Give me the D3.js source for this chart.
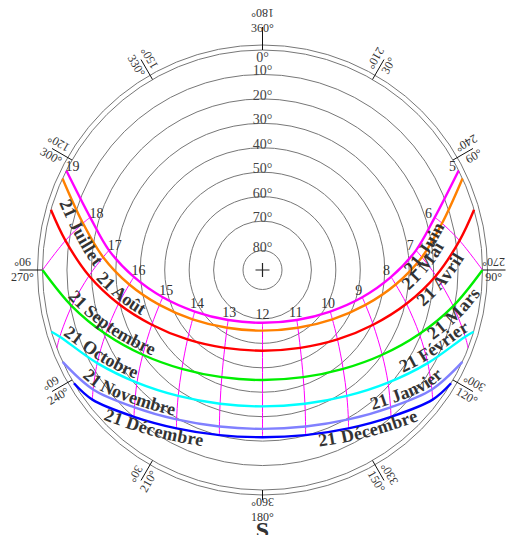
<!DOCTYPE html>
<html><head><meta charset="utf-8">
<script src="https://cdn.jsdelivr.net/npm/d3@7"></script>
<style>body{margin:0;background:#fff}svg{display:block}</style>
</head><body>
<svg id="chart" width="506" height="535"></svg>
<script>
// ---------- data ----------
const altitudeRings = [0, 10, 20, 30, 40, 50, 60, 70, 80];
const azimuthTicks = [0, 30, 60, 90, 120, 150, 180, 210, 240, 270, 300, 330];
const hourLineHours = [6, 7, 8, 9, 10, 11, 12, 13, 14, 15, 16, 17, 18];
// sun path points: [solar hour, azimuth deg, altitude deg]
const pathJuin = [[5,63.1,0],[6,73.0,16.3],[7,82.7,26.7],[8,93.1,37.3],[9,105.3,47.7],[10,121.5,57.5],[11,145.5,65.2],[12,180,68.4],[13,214.5,65.2],[14,238.5,57.5],[15,254.7,47.7],[16,266.9,37.3],[17,277.3,26.7],[18,287.0,16.3],[19,296.9,0]];
const pathMaiJuillet = [[5,65.4,0],[6,75.4,14.1],[7,85.4,24.6],[8,96.2,35.2],[9,108.7,45.5],[10,125.2,55.0],[11,148.5,62.3],[12,180,65.2],[13,211.5,62.3],[14,234.8,55.0],[15,251.3,45.5],[16,263.8,35.2],[17,274.6,24.6],[18,284.6,14.1],[19,294.6,0]];
const pathAvrilAout = [[5.3,74.1,0],[6,81.5,8.5],[7,91.9,19.0],[8,103.2,29.5],[9,116.3,39.5],[10,132.8,48.2],[11,154.1,54.6],[12,180,57.0],[13,205.9,54.6],[14,227.2,48.2],[15,243.7,39.5],[16,256.8,29.5],[17,268.1,19.0],[18,278.5,8.5],[18.7,285.9,0]];
const pathMarsSept = [[6,90,0],[7,100.7,10.6],[8,112.2,20.7],[9,125.3,30.0],[10,140.8,37.8],[11,159.2,43.1],[12,180,45.0],[13,200.8,43.1],[14,219.2,37.8],[15,234.7,30.0],[16,247.8,20.7],[17,259.3,10.6],[18,270,0]];
const pathFevOct = [[6.8,106.3,0],[7,108.2,2.7],[8,119.4,12.4],[9,131.9,21.0],[10,146.2,28.0],[11,162.4,32.6],[12,180,34.2],[13,197.6,32.6],[14,213.8,28.0],[15,228.1,21.0],[16,240.6,12.4],[17,251.8,2.7],[17.2,253.7,0]];
const pathJanvNov = [[7.1,114.7,0],[8,125.2,5.2],[9,137.0,13.2],[10,150.1,19.5],[11,164.6,23.6],[12,180,25.0],[13,195.4,23.6],[14,209.9,19.5],[15,223.0,13.2],[16,234.8,5.2],[16.9,245.3,0]];
const pathDecembre = [[7.4,121.0,0],[8,127.3,2.5],[9,138.8,10.2],[10,151.5,16.3],[11,165.4,20.2],[12,180,21.6],[13,194.6,20.2],[14,208.5,16.3],[15,221.2,10.2],[16,232.7,2.5],[16.6,239.0,0]];
// where the 7 h and 17 h lines meet the horizon
const hourLineHorizon = [[7,110.8,0],[17,249.2,0]];
// date labels: [text, curve index, azimuth of label centre, side]
const dateLabels = [
  ["21 Juillet",1,283,"out"],["21 Août",2,258,"in"],["21 Septembre",3,248,"in"],
  ["21 Octobre",4,241,"in"],["21 Novembre",5,226,"in"],["21 Décembre",6,215,"out"],
  ["21 Juin",0,81,"out"],["21 Mai",1,87,"out"],["21 Avril",2,92,"out"],["21 Mars",3,102,"out"],
  ["21 Février",4,116,"in"],["21 Janvier",5,131,"in"],["21 Décembre",6,146,"out"]
];

// ---------- layout ----------
const W = 506, cx = 262.5, cy = 270;
const curves = [
  {pts: pathJuin, color: "#ff00ff"},
  {pts: pathMaiJuillet, color: "#ff8000"},
  {pts: pathAvrilAout, color: "#ff0000"},
  {pts: pathMarsSept, color: "#00ee00"},
  {pts: pathFevOct, color: "#00ffff"},
  {pts: pathJanvNov, color: "#8080ff"},
  {pts: pathDecembre, color: "#0000ff"}
];
const r = d3.scaleLinear().domain([0, 70, 80, 90]).range([220, 48.9, 19.5, 0]);
const rad = d => d * Math.PI / 180;
const px = d => Math.sin(rad(d[1])) * r(d[2]);
const py = d => -Math.cos(rad(d[1])) * r(d[2]);
const svg = d3.select("#chart");
const g = svg.append("g").attr("transform", `translate(${cx},${cy})`);
const serif = "'Liberation Serif','Times New Roman',serif";

// rings
g.selectAll("circle.ring").data(altitudeRings).join("circle")
  .attr("r", d => r(d)).attr("fill", "none").attr("stroke", "#777").attr("stroke-width", 1);
g.append("circle").attr("r", r(0) + 5).attr("fill", "none").attr("stroke", "#777");

// centre cross
g.append("path").attr("d", "M-7,0H7M0,-7V7").attr("stroke", "#222").attr("stroke-width", 1.2);

// altitude labels
g.selectAll("text.alt").data(altitudeRings).join("text")
  .attr("x", 0).attr("y", d => d === 0 ? -r(d) + 12 : -r(d) + 1)
  .attr("text-anchor", "middle").attr("font-family", serif).attr("font-size", 14).attr("fill", "#444")
  .text(d => d + "°");

// azimuth ticks
const tickEnd = az => az === 180 ? r(0) + 10 : r(0) + 23;
g.selectAll("line.tick").data(azimuthTicks).join("line")
  .attr("x1", d => Math.sin(rad(d)) * r(0)).attr("y1", d => -Math.cos(rad(d)) * r(0))
  .attr("x2", d => Math.sin(rad(d)) * tickEnd(d)).attr("y2", d => -Math.cos(rad(d)) * tickEnd(d))
  .attr("stroke", "#111").attr("stroke-width", 1);

function tickRot(az) {
  if (az % 180 === 0) return 0;
  let a = ((az - 90) % 180 + 180) % 180;
  if (a > 90) a -= 180;
  return a;
}
azimuthTicks.forEach(az => {
  const ra = az === 0 ? 249 : 240;
  const tx = Math.sin(rad(az)) * ra, ty = -Math.cos(rad(az)) * ra;
  const rot = tickRot(az);
  const gg = g.append("g").attr("transform", `translate(${tx},${ty}) rotate(${rot})`);
  const norm = az === 0 ? 360 : az;
  const opp = (az + 180) % 360 === 0 ? 360 : (az + 180) % 360;
  gg.append("text").attr("x", 0).attr("y", 7).attr("dominant-baseline", "central")
    .attr("text-anchor", "middle").attr("font-family", serif).attr("font-size", 12).attr("fill", "#333")
    .text(norm + "°");
  gg.append("text").attr("transform", "translate(0,-8) rotate(180)").attr("dominant-baseline", "central")
    .attr("text-anchor", "middle").attr("font-family", serif).attr("font-size", 12).attr("fill", "#333")
    .text(opp + "°");
  // keep the pair inside the page
  const bb = gg.node().getBoundingClientRect();
  let shift = 0;
  if (bb.right > W - 1) shift = W - 1 - bb.right;
  if (bb.left < 1) shift = 1 - bb.left;
  if (shift) gg.attr("transform", `translate(${tx + shift},${ty}) rotate(${rot})`);
});

// line generator
const radial = d3.lineRadial().angle(d => rad(d[1])).radius(d => r(d[2])).curve(d3.curveCatmullRom.alpha(0.5));

// hour lines
hourLineHours.forEach(h => {
  const pts = curves.map(c => c.pts.find(p => p[0] === h)).filter(Boolean);
  hourLineHorizon.filter(p => p[0] === h).forEach(p => pts.push(p));
  g.append("path").attr("d", radial(pts)).attr("fill", "none").attr("stroke", "#ff00ff").attr("stroke-width", 1);
});

// date curves
curves.forEach((c, i) => {
  g.append("path").attr("d", radial(c.pts)).attr("fill", "none")
    .attr("stroke", c.color).attr("stroke-width", 2.4);
  g.append("path").attr("id", "lp" + i).attr("d", radial(c.pts.slice().reverse()))
    .attr("fill", "none").attr("stroke", "none");
});

// hour labels on the 21 June curve, set off along the inner normal of the curve
pathJuin.forEach((d, i) => {
  const a = pathJuin[Math.max(0, i - 1)], b = pathJuin[Math.min(pathJuin.length - 1, i + 1)];
  let dx = px(b) - px(a), dy = py(b) - py(a);
  const len = Math.hypot(dx, dy); dx /= len; dy /= len;
  const nx = -dy, ny = dx;
  g.append("text").attr("x", px(d) + nx * 7).attr("y", py(d) + ny * 7 - 1)
    .attr("dominant-baseline", "central").attr("text-anchor", "middle")
    .attr("font-family", serif).attr("font-size", 14).attr("fill", "#333").text(d[0]);
});

// date labels along curves
dateLabels.forEach(([txt, ci, az, side]) => {
  const node = document.getElementById("lp" + ci);
  const L = node.getTotalLength();
  let best = 0, bestD = 1e9;
  for (let s = 0; s <= L; s += 0.5) {
    const p = node.getPointAtLength(s);
    let a = Math.atan2(p.x, -p.y) * 180 / Math.PI; if (a < 0) a += 360;
    const dd = Math.abs(a - az);
    if (dd < bestD) { bestD = dd; best = s; }
  }
  g.append("text").attr("font-family", serif).attr("font-size", 18).attr("font-weight", "bold")
    .attr("fill", "#333").attr("dy", side === "out" ? 13 : -3)
    .append("textPath").attr("href", "#lp" + ci).attr("startOffset", best).attr("text-anchor", "middle")
    .text(txt);
});

// south marker (cut by the lower edge, as in the original)
svg.append("text").attr("x", cx).attr("y", 538).attr("text-anchor", "middle")
  .attr("font-family", serif).attr("font-size", 24).attr("font-weight", "bold").attr("fill", "#333").text("S");
</script>
</body></html>
